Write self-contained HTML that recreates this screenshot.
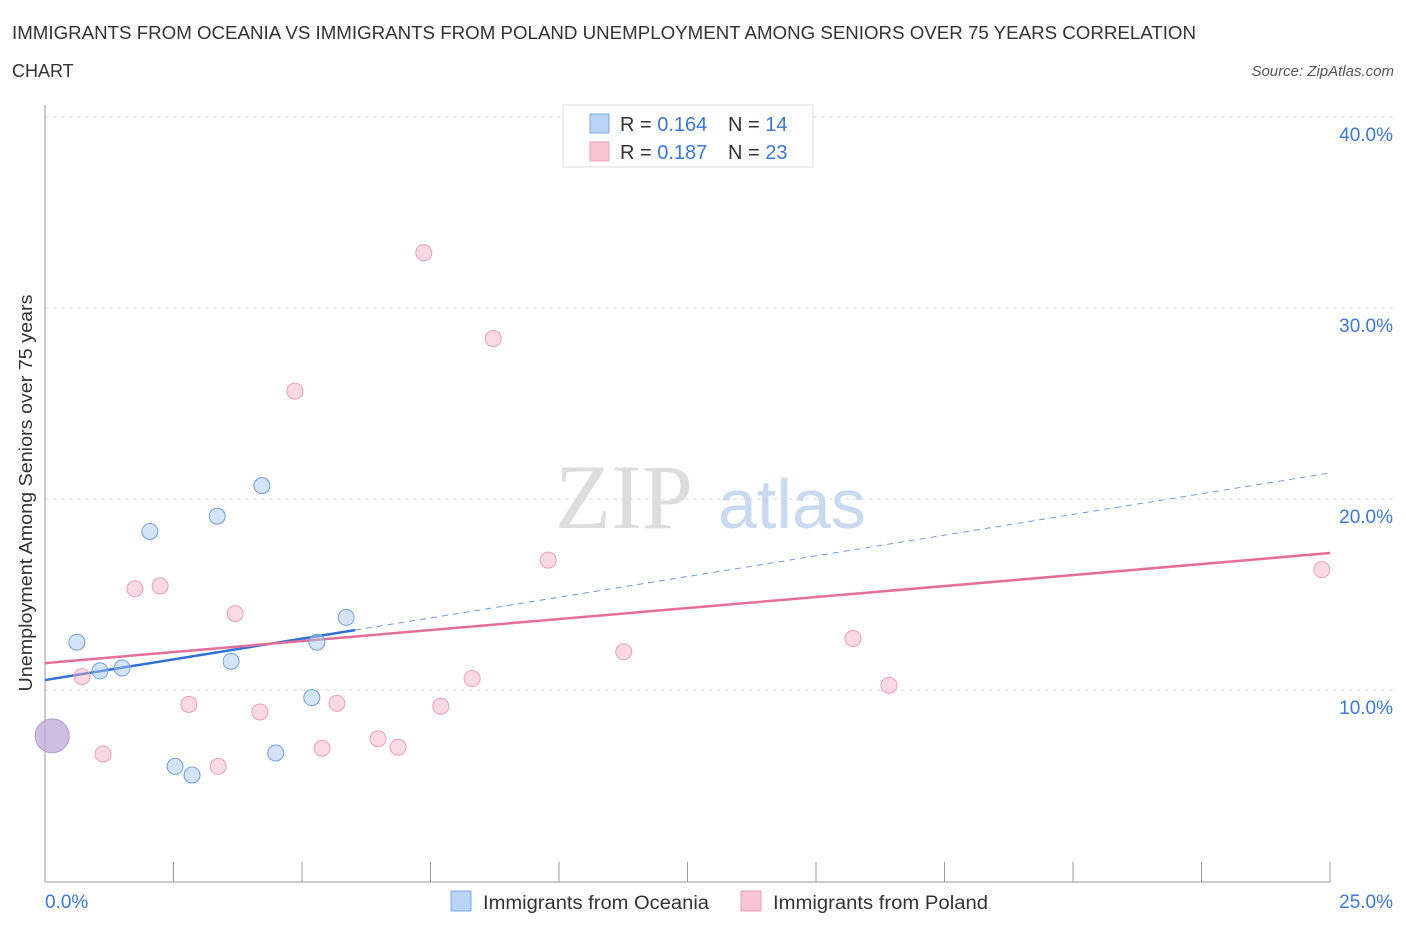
<!DOCTYPE html>
<html><head><meta charset="utf-8"><style>
body{margin:0;background:#fff;font-family:"Liberation Sans",sans-serif;}
</style></head><body>
<svg id="chart" width="1406" height="930" xmlns="http://www.w3.org/2000/svg">
<text x="12" y="39" font-size="18" fill="#333" textLength="1184" lengthAdjust="spacingAndGlyphs">IMMIGRANTS FROM OCEANIA VS IMMIGRANTS FROM POLAND UNEMPLOYMENT AMONG SENIORS OVER 75 YEARS CORRELATION</text>
<text x="12" y="77" font-size="18" fill="#333">CHART</text>
<text x="1394" y="76" font-size="15" fill="#555" font-style="italic" text-anchor="end">Source: ZipAtlas.com</text>
<g id="grid"></g>
<text x="555" y="528" font-size="92" fill="#ddd" font-family="Liberation Serif,serif">ZIP</text>
<text x="718" y="528" font-size="70" fill="#c8d9f0">atlas</text>
<g id="lines"></g>
<g id="pts"></g>
<g>
<rect x="563" y="105" width="250" height="62" fill="#fff" stroke="#ddd"/>
<rect x="590" y="114" width="19" height="19" fill="#b8d3f5" stroke="#7fa9e3"/>
<text x="620" y="131" font-size="20" fill="#333">R = <tspan fill="#3b78d8">0.164</tspan></text>
<text x="728" y="131" font-size="20" fill="#333">N = <tspan fill="#3b78d8">14</tspan></text>
<rect x="590" y="142" width="19" height="19" fill="#f9c5d5" stroke="#eba0b8"/>
<text x="620" y="159" font-size="20" fill="#333">R = <tspan fill="#3b78d8">0.187</tspan></text>
<text x="728" y="159" font-size="20" fill="#333">N = <tspan fill="#3b78d8">23</tspan></text>
</g>
<g>
<rect x="451" y="891" width="20" height="20" fill="#b8d3f5" stroke="#7fa9e3"/>
<text x="483" y="909" font-size="19" fill="#333" textLength="226" lengthAdjust="spacingAndGlyphs">Immigrants from Oceania</text>
<rect x="741" y="891" width="20" height="20" fill="#f9c5d5" stroke="#eba0b8"/>
<text x="773" y="909" font-size="19" fill="#333" textLength="215" lengthAdjust="spacingAndGlyphs">Immigrants from Poland</text>
</g>
<text x="32" y="493" font-size="18" fill="#333" text-anchor="middle" textLength="397" lengthAdjust="spacingAndGlyphs" transform="rotate(-90 32 493)">Unemployment Among Seniors over 75 years</text>
</svg>
<script>
const blueX=[0.14,0.62,1.07,1.50,2.04,3.35,4.22,3.62,2.53,2.86,4.49,5.19,5.29,5.86];
const blueY=[7.6,12.5,11.0,11.15,18.3,19.1,20.7,11.5,6.0,5.55,6.7,9.6,12.5,13.8];
const pinkX=[0.72,1.13,1.75,2.24,3.70,2.80,3.37,4.18,4.86,5.39,5.68,6.48,6.87,7.37,7.70,8.31,8.72,9.79,11.26,15.72,16.42,24.84];
const pinkY=[10.7,6.65,15.3,15.45,14.0,9.25,6.0,8.85,25.65,6.95,9.3,7.45,7.0,32.9,9.15,10.6,28.4,16.8,12.0,12.7,10.25,16.3];
const bigPoint=[0.14,7.6];
const yTicks=[10,20,30,40];
const blueLine=[10.52,21.36]; const blueSolidEnd=6.03;
const pinkLine=[11.41,17.17];
const NS="http://www.w3.org/2000/svg";
const sx=v=>45+v*51.4, sy=v=>881-v*19.1;
function mk(tag,attrs,parent){const e=document.createElementNS(NS,tag);for(const k in attrs)e.setAttribute(k,attrs[k]);parent.appendChild(e);return e;}
const grid=document.getElementById('grid');
yTicks.forEach(t=>{
 const l=mk('line',{x1:45,x2:1395,y1:sy(t),y2:sy(t),stroke:'#ddd','stroke-dasharray':'4,4'},grid);
 
 
 const tx=mk('text',{x:1393,y:sy(t)+24,'font-size':19,fill:'#3b78d8','text-anchor':'end'},grid);
 tx.textContent=t.toFixed(1)+'%';
 
 
});
const ax=mk('line',{x1:45,x2:45,y1:105,y2:882,stroke:'#999'},grid);


const bx=mk('line',{x1:45,x2:1330,y1:882,y2:882,stroke:'#999'},grid);


for(let i=0;i<=10;i++){const t=mk('line',{x1:sx(i*2.5),x2:sx(i*2.5),y1:862,y2:882,stroke:'#999'},grid);
 
 }
[[0,'0.0%',45,'start'],[25,'25.0%',1393,'end']].forEach(a=>{const t=mk('text',{x:a[2],y:908,'font-size':19,fill:'#3b78d8','text-anchor':a[3]},grid);t.textContent=a[1];
 
 });
const L=document.getElementById('lines');
const lb=mk('line',{x1:sx(0),y1:sy(blueLine[0]),x2:sx(blueSolidEnd),y2:sy(blueLine[0]+(blueLine[1]-blueLine[0])*blueSolidEnd/25),stroke:'#2f6fd6','stroke-width':2.5},L);


const lbd=mk('line',{x1:sx(blueSolidEnd),y1:sy(blueLine[0]+(blueLine[1]-blueLine[0])*blueSolidEnd/25),x2:sx(25),y2:sy(blueLine[1]),stroke:'#6a9be0','stroke-width':1,'stroke-dasharray':'6,5'},L);


const lp=mk('line',{x1:sx(0),y1:sy(pinkLine[0]),x2:sx(25),y2:sy(pinkLine[1]),stroke:'#e46e98','stroke-width':2.5},L);


const P=document.getElementById('pts');
pinkX.forEach((x,i)=>{const c=mk('circle',{cx:sx(x),cy:sy(pinkY[i]),r:8,fill:'rgba(245,170,195,0.45)',stroke:'#eba0b8','stroke-width':1},P);
 
 });
blueX.slice(1).forEach((x,i)=>{const c=mk('circle',{cx:sx(x),cy:sy(blueY[i+1]),r:8,fill:'rgba(170,200,240,0.5)',stroke:'#6fa0e0','stroke-width':1},P);
 
 });
const big=mk('circle',{cx:sx(bigPoint[0]),cy:sy(bigPoint[1]),r:17,fill:'rgba(190,170,215,0.75)',stroke:'#b59ad0','stroke-width':1},P);


</script>
</body></html>
